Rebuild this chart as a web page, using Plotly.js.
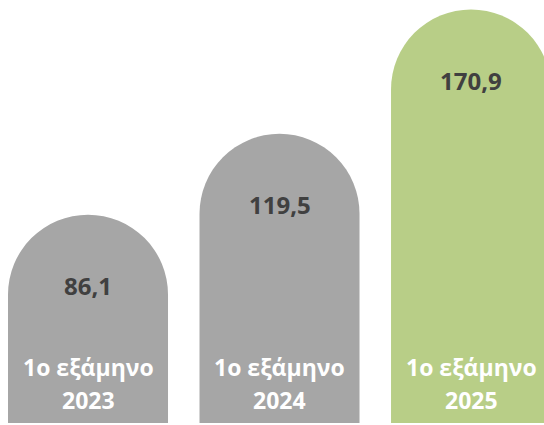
<!DOCTYPE html>
<html>
<head>
<meta charset="utf-8">
<script src="https://cdn.plot.ly/plotly-3.0.1.min.js"></script>
<style>
html,body{margin:0;padding:0;background:#fff;}
#chart{width:544px;height:425px;}
</style>
</head>
<body>
<div id="chart"></div>
<script>
const categories = ["2023", "2024", "2025"];
const periodLabel = "1ο εξάμηνο";
const values = [86.1, 119.5, 170.9];
const colors = ["#a6a6a6", "#a6a6a6", "#b8ce87"];

const fontFamily = "'Open Sans', 'DejaVu Sans', sans-serif";

const trace = {
  type: "bar",
  x: categories,
  y: values,
  marker: { color: colors, cornerradius: "50%", line: { width: 0 } },
  hoverinfo: "skip",
  width: 0.8355
};

const annotations = [];
categories.forEach((c, i) => {
  annotations.push({
    x: i, y: values[i], xref: "x", yref: "y",
    text: values[i].toFixed(1).replace(".", ","),
    showarrow: false, yanchor: "middle", yshift: -71,
    font: { family: fontFamily, size: 24, color: "#404040", weight: "bold" }
  });
  annotations.push({
    x: i, y: 0, xref: "x", yref: "y",
    text: periodLabel,
    showarrow: false, yanchor: "middle", yshift: 56,
    font: { family: fontFamily, size: 23, color: "#ffffff", weight: "bold" }
  });
  annotations.push({
    x: i, y: 0, xref: "x", yref: "y",
    text: c,
    showarrow: false, yanchor: "middle", yshift: 23,
    font: { family: fontFamily, size: 23, color: "#ffffff", weight: "bold" }
  });
});

const layout = {
  width: 544, height: 425,
  margin: { l: 0, r: 0, t: 0, b: 2, pad: 0 },
  paper_bgcolor: "#ffffff", plot_bgcolor: "#ffffff",
  showlegend: false,
  xaxis: { type: "category", range: [-0.4595, 2.381], visible: false, fixedrange: true },
  yaxis: { range: [0, 174.8], visible: false, fixedrange: true },
  annotations: annotations
};

Plotly.newPlot("chart", [trace], layout, { displayModeBar: false, staticPlot: true });
</script>
</body>
</html>
